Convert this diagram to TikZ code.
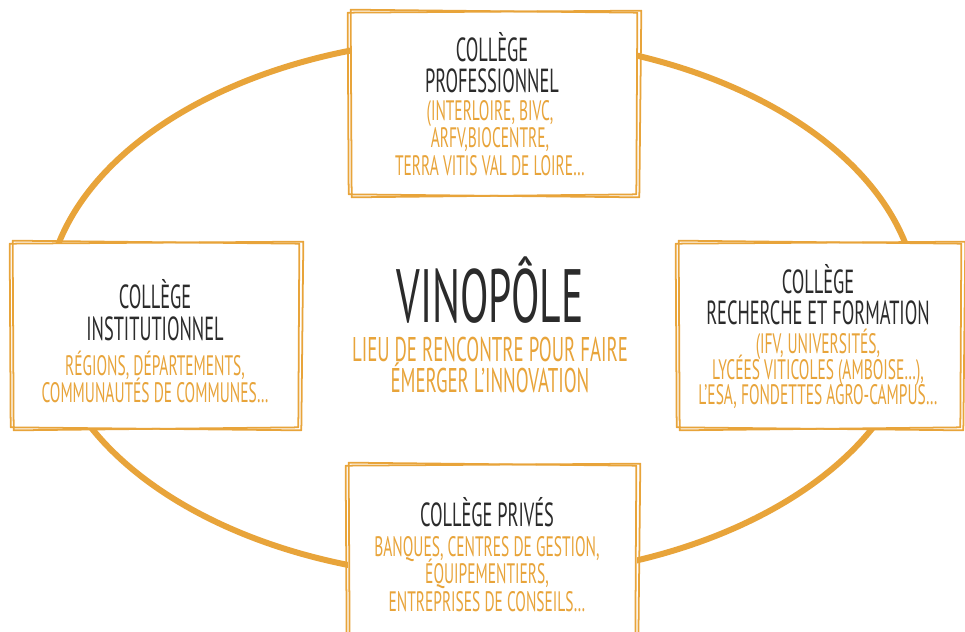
\documentclass[tikz,border=0pt]{standalone}
\usepackage{fontspec}
\setmainfont{PT Sans}[FakeStretch=0.55]
\usepackage{xcolor}
\definecolor{ocre}{HTML}{E8A43A}
\definecolor{encre}{HTML}{2B2B2B}

% cadre dessine a main : deux traits legerement decales
\newcommand\croquis[1]{%
  \draw[cadre] ([shift={(-2,1)}]#1.north west) -- ([shift={(3,-1)}]#1.north east)
    -- ([shift={(1,2)}]#1.south east) -- ([shift={(-1,-1)}]#1.south west) -- cycle;
  \draw[cadre] ([shift={(1,-2)}]#1.north west) -- ([shift={(-1,1)}]#1.north east)
    -- ([shift={(-2,-1)}]#1.south east) -- ([shift={(2,2)}]#1.south west) -- cycle;
}
\newcommand\serre[2]{\fontsize{#1}{#2}\selectfont\lineskiplimit=-20pt\lineskip=0pt}

\begin{document}
\begin{tikzpicture}[x=0.02cm, y=-0.02cm,
    panneau/.style={fill=white, inner sep=0pt},
    cadre/.style={draw=ocre, line width=1pt, line join=round},
    titre/.style={align=center, text=encre, inner sep=0pt, font=\serre{19}{17.5}},
    detail/.style={align=center, text=ocre, inner sep=0pt, font=\serre{16}{15.5}},
]

\clip (0,0) rectangle (965,632);
\fill[white] (0,0) rectangle (965,632);

% Anneau
\draw[ocre, line width=3.4pt] (482,308) ellipse [x radius=8.72cm, y radius=5.4cm];

% College professionnel
\node[panneau, minimum width=5.76cm, minimum height=3.66cm] (pro) at (494,103.5) {};
\croquis{pro}
\node[titre] (pro-titre) at (492,63) {COLLÈGE\\PROFESSIONNEL};
\node[detail] (pro-detail) at (490,138) {(INTERLOIRE, BIVC,\\ARFV,BIOCENTRE,\\TERRA VITIS VAL DE LOIRE…};

% College institutionnel
\node[panneau, minimum width=5.76cm, minimum height=3.7cm] (inst) at (156,335.5) {};
\croquis{inst}
\node[titre, font=\serre{19}{18.5}] (inst-titre) at (155,310) {COLLÈGE\\INSTITUTIONNEL};
\node[detail, font=\serre{16}{15}] (inst-detail) at (155,377) {RÉGIONS, DÉPARTEMENTS,\\COMMUNAUTÉS DE COMMUNES…};

% College recherche et formation
\node[panneau, minimum width=5.68cm, minimum height=3.7cm] (rech) at (820,335.5) {};
\croquis{rech}
\node[titre] (rech-titre) at (818,295) {COLLÈGE\\RECHERCHE ET FORMATION};
\node[detail, font=\serre{16}{14.5}] (rech-detail) at (818,369) {(IFV, UNIVERSITÉS,\\LYCÉES VITICOLES (AMBOISE…),\\L'ESA, FONDETTES AGRO-CAMPUS…};

% College prives
\node[panneau, minimum width=5.78cm, minimum height=3.6cm] (priv) at (492.5,555) {};
\croquis{priv}
\node[titre] (priv-titre) at (487,512) {COLLÈGE PRIVÉS};
\node[detail] (priv-detail) at (487,574) {BANQUES, CENTRES DE GESTION,\\ÉQUIPEMENTIERS,\\ENTREPRISES DE CONSEILS…};

% Centre
\node[text=encre, inner sep=0pt, font=\fontsize{43}{43}\selectfont] (vino) at (490,290) {VINOPÔLE};
\node[detail, font=\serre{19.5}{17.5}] (lieu) at (490,365) {LIEU DE RENCONTRE POUR FAIRE\\ÉMERGER L'INNOVATION};

\end{tikzpicture}
\end{document}
